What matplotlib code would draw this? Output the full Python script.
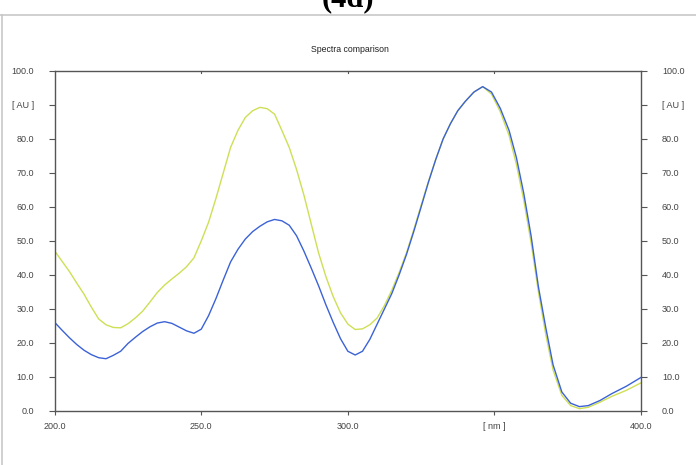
import matplotlib
matplotlib.use("Agg")
import matplotlib.pyplot as plt
from matplotlib.lines import Line2D

wavelength = [200, 202.5, 205, 207.5, 210, 212.5, 215, 217.5, 220, 222.5, 225, 227.5, 230, 232.5,
              235, 237.5, 240, 242.5, 245, 247.5, 250, 252.5, 255, 257.5, 260, 262.5, 265, 267.5,
              270, 272.5, 275, 277.5, 280, 282.5, 285, 287.5, 290, 292.5, 295, 297.5, 300, 302.5,
              305, 307.5, 310, 312.5, 315, 317.5, 320, 322.5, 325, 327.5, 330, 332.5, 335, 337.5,
              340, 343, 346, 349, 352, 355, 357.5, 360, 362.5, 365, 367.5, 370, 373, 376, 379,
              382, 386, 390, 395, 400]

yellow_au = [47.0, 44.0, 41.0, 37.6, 34.3, 30.5, 27.0, 25.3, 24.5, 24.4, 25.6, 27.3, 29.3, 32.0,
             34.8, 37.0, 38.8, 40.5, 42.4, 45.0, 50.0, 55.5, 62.5, 70.0, 77.5, 82.5, 86.3, 88.3,
             89.3, 88.9, 87.3, 82.5, 77.5, 71.0, 63.5, 55.0, 46.5, 39.5, 33.6, 28.8, 25.5, 23.9,
             24.1, 25.3, 27.3, 31.0, 35.5, 40.7, 46.5, 53.3, 60.5, 67.5, 74.0, 80.0, 84.5, 88.3,
             91.0, 93.8, 95.4, 93.2, 88.0, 81.0, 72.5, 62.0, 49.5, 35.0, 22.5, 12.0, 4.5, 1.5, 0.6,
             1.0, 2.5, 4.2, 6.0, 8.2]

blue_au = [26.0, 23.7, 21.5, 19.5, 17.8, 16.5, 15.6, 15.3, 16.3, 17.5, 19.8, 21.6, 23.3, 24.7,
           25.8, 26.2, 25.7, 24.6, 23.5, 22.8, 24.0, 28.0, 33.0, 38.5, 43.8, 47.5, 50.5, 52.7,
           54.3, 55.6, 56.3, 55.9, 54.6, 51.5, 47.0, 42.0, 36.8, 31.2, 26.0, 21.2, 17.5, 16.4,
           17.5, 21.0, 25.5, 30.0, 34.5, 40.0, 46.0, 52.8, 60.0, 67.3, 74.0, 80.0, 84.5, 88.3,
           91.0, 93.8, 95.4, 93.8, 89.0, 82.5, 74.5, 64.0, 51.5, 36.5, 24.5, 13.5, 5.5, 2.2, 1.2,
           1.5, 3.0, 5.0, 7.2, 9.8]

x_ticks = [200, 250, 300, 350, 400]
x_ticklabels = ["200.0", "250.0", "300.0", "[ nm ]", "400.0"]
y_ticks = [0, 10, 20, 30, 40, 50, 60, 70, 80, 90, 100]
y_ticklabels = ["0.0", "10.0", "20.0", "30.0", "40.0", "50.0", "60.0", "70.0", "80.0", "[ AU ]", "100.0"]

plt.rcParams['font.family'] = ['Liberation Sans', 'DejaVu Sans']

fig = plt.figure(figsize=(6.96, 4.65), dpi=100)
ax = fig.add_axes([54.7 / 696, 1 - 410.7 / 465, (641 - 54.7) / 696, (410.7 - 71) / 465])

ax.plot(wavelength, yellow_au, color="#cfdf55", lw=1.0, solid_joinstyle='round')
ax.plot(wavelength, blue_au, color="#3b62d6", lw=1.0, solid_joinstyle='round')

ax.set_xlim(200, 400)
ax.set_ylim(0, 100)

spine_col = "#555555"
for s in ax.spines.values():
    s.set_color(spine_col)
    s.set_linewidth(1.0)

ax.set_xticks(x_ticks)
ax.set_xticklabels(x_ticklabels)
ax.set_yticks(y_ticks)
ax.set_yticklabels(y_ticklabels)

ax.tick_params(axis='y', which='both', direction='out', length=4, width=0.8, color=spine_col,
               labelsize=6.5, labelcolor="#444444", pad=11, left=True, right=True,
               labelleft=True, labelright=True)
ax.tick_params(axis='x', which='both', direction='out', length=3, width=0.8, color=spine_col,
               labelsize=6.5, labelcolor="#444444", pad=5, bottom=True, top=False)

# top inward ticks
for xt in x_ticks[1:-1]:
    ax.plot([xt, xt], [100, 99.3], color=spine_col, lw=0.8, clip_on=False)

fig.text(350 / 696, 1 - 49 / 465, "Spectra comparison", ha='center', va='center',
         fontsize=6.3, color="#222222")

fig.text(348 / 696, 1 - 6 / 465, "(4d)", ha='center', va='baseline',
         fontsize=22, fontweight='bold', family=['Liberation Serif', 'DejaVu Serif'])

# frame lines
fig.add_artist(Line2D([0, 1], [1 - 15 / 465, 1 - 15 / 465], transform=fig.transFigure,
                      color="#c8c8c8", lw=1.2))
fig.add_artist(Line2D([1.5 / 696, 1.5 / 696], [0, 1 - 15 / 465], transform=fig.transFigure,
                      color="#c8c8c8", lw=1.2))

fig.savefig("out.png", dpi=100)
